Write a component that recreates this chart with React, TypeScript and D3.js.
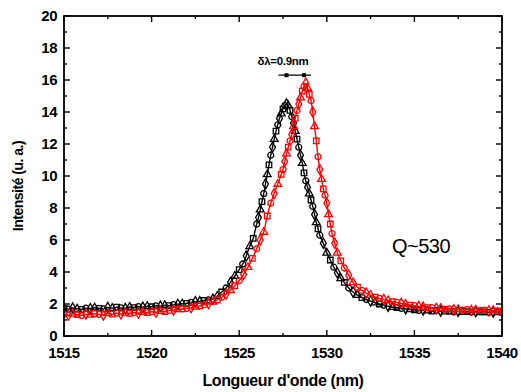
import React from "react";
import * as d3 from "d3";

const blackWl = [1515.0,1515.25,1515.5,1515.75,1516.0,1516.25,1516.5,1516.75,1517.0,1517.25,1517.5,1517.75,1518.0,1518.25,1518.5,1518.75,1519.0,1519.25,1519.5,1519.75,1520.0,1520.25,1520.5,1520.75,1521.0,1521.25,1521.5,1521.75,1522.0,1522.25,1522.5,1522.75,1523.0,1523.25,1523.5,1523.75,1524.0,1524.25,1524.5,1524.75,1525.0,1525.2,1525.4,1525.6,1525.8,1526.0,1526.1,1526.2,1526.3,1526.4,1526.5,1526.6,1526.7,1526.8,1526.9,1527.0,1527.1,1527.2,1527.3,1527.4,1527.5,1527.6,1527.7,1527.8,1527.9,1528.0,1528.1,1528.2,1528.3,1528.4,1528.5,1528.6,1528.7,1528.8,1528.9,1529.0,1529.1,1529.2,1529.3,1529.4,1529.5,1529.6,1529.8,1530.0,1530.2,1530.4,1530.6,1530.8,1531.0,1531.25,1531.5,1531.75,1532.0,1532.25,1532.5,1532.75,1533.0,1533.25,1533.5,1533.75,1534.0,1534.25,1534.5,1534.75,1535.0,1535.25,1535.5,1535.75,1536.0,1536.25,1536.5,1536.75,1537.0,1537.25,1537.5,1537.75,1538.0,1538.25,1538.5,1538.75,1539.0,1539.25,1539.5,1539.75,1540.0];
const blackI = [1.72,1.68,1.75,1.70,1.66,1.74,1.71,1.77,1.73,1.69,1.78,1.74,1.80,1.76,1.72,1.81,1.78,1.84,1.80,1.86,1.83,1.89,1.86,1.92,1.90,1.96,1.98,2.02,2.04,2.10,2.14,2.18,2.22,2.26,2.3,2.5,2.75,3.0,3.35,3.75,4.15,4.5,5.0,5.6,6.1,7.0,7.4,7.9,8.4,8.9,9.5,10.1,10.7,11.3,11.8,12.3,12.8,13.2,13.6,13.9,14.2,14.4,14.5,14.4,14.1,13.7,13.3,12.8,12.3,11.8,11.3,10.8,10.2,9.7,9.3,8.9,8.5,8.1,7.6,7.1,6.7,6.3,5.8,5.2,4.75,4.3,3.95,3.6,3.35,3.0,2.75,2.55,2.4,2.28,2.18,2.08,2.0,1.92,1.86,1.80,1.78,1.72,1.70,1.66,1.64,1.60,1.62,1.58,1.56,1.60,1.55,1.52,1.56,1.51,1.54,1.50,1.53,1.49,1.52,1.48,1.51,1.47,1.50,1.48,1.49];

const redWl = [1515.0,1515.25,1515.5,1515.75,1516.0,1516.25,1516.5,1516.75,1517.0,1517.25,1517.5,1517.75,1518.0,1518.25,1518.5,1518.75,1519.0,1519.25,1519.5,1519.75,1520.0,1520.25,1520.5,1520.75,1521.0,1521.25,1521.5,1521.75,1522.0,1522.25,1522.5,1522.75,1523.0,1523.25,1523.5,1523.75,1524.0,1524.25,1524.5,1524.75,1525.0,1525.25,1525.5,1525.75,1526.0,1526.2,1526.4,1526.6,1526.8,1527.0,1527.2,1527.4,1527.5,1527.6,1527.7,1527.8,1527.9,1528.0,1528.1,1528.2,1528.3,1528.4,1528.5,1528.6,1528.7,1528.8,1528.9,1529.0,1529.1,1529.2,1529.3,1529.4,1529.5,1529.6,1529.7,1529.8,1529.9,1530.0,1530.1,1530.2,1530.3,1530.45,1530.6,1530.8,1531.0,1531.25,1531.5,1531.75,1532.0,1532.25,1532.5,1532.75,1533.0,1533.25,1533.5,1533.75,1534.0,1534.25,1534.5,1534.75,1535.0,1535.25,1535.5,1535.75,1536.0,1536.25,1536.5,1536.75,1537.0,1537.25,1537.5,1537.75,1538.0,1538.25,1538.5,1538.75,1539.0,1539.25,1539.5,1539.75,1540.0];
const redI = [1.36,1.30,1.38,1.33,1.28,1.37,1.32,1.40,1.35,1.31,1.41,1.37,1.43,1.38,1.45,1.41,1.47,1.43,1.50,1.46,1.52,1.49,1.56,1.53,1.60,1.62,1.66,1.69,1.73,1.77,1.82,1.88,1.95,2.03,2.13,2.25,2.42,2.62,2.86,3.14,3.45,3.85,4.3,4.85,5.45,6.0,6.5,7.5,8.3,8.9,9.5,10.1,10.4,10.9,11.4,11.8,12.2,12.6,13.1,13.6,14.1,14.5,14.9,15.3,15.6,15.8,15.5,15.1,14.7,14.0,13.1,12.2,11.2,10.4,9.8,9.2,8.8,8.3,7.6,7.0,6.4,5.8,5.2,4.7,4.25,3.8,3.35,3.05,2.85,2.68,2.55,2.43,2.35,2.28,2.22,2.14,2.10,2.03,2.00,1.93,1.90,1.85,1.84,1.78,1.77,1.72,1.74,1.68,1.70,1.64,1.67,1.62,1.65,1.60,1.63,1.58,1.62,1.57,1.60,1.56,1.59];

const xMajor = [1515, 1520, 1525, 1530, 1535, 1540];
const xMinor = [1517.5, 1522.5, 1527.5, 1532.5, 1537.5];
const yMajor = [0, 2, 4, 6, 8, 10, 12, 14, 16, 18, 20];
const yMinor = [1, 3, 5, 7, 9, 11, 13, 15, 17, 19];
const peakWl = [1527.7, 1528.7];
const peakArrowY = 16.3;

const W = 521, H = 392;
const L = 64, R = 502, T = 16, B = 336;
const FONT = "'Liberation Sans', Arial, sans-serif";

const symbols = [d3.symbolSquare, d3.symbolCircle, d3.symbolDiamond, d3.symbolTriangle];

export default function App() {
  const x = d3.scaleLinear().domain([1515, 1540]).range([L, R]);
  const y = d3.scaleLinear().domain([0, 20]).range([B, T]);
  const line = d3.line<[number, number]>().x(d => x(d[0])).y(d => y(d[1])).curve(d3.curveMonotoneX);

  const series = [
    { wl: blackWl, v: blackI, color: "#000000" },
    { wl: redWl, v: redI, color: "#ff0000" },
  ];

  const symGens = symbols.map((s, i) => d3.symbol().type(s).size(i === 1 ? 28 : i === 3 ? 26 : 30)());

  const ay = y(peakArrowY);
  const ax0 = x(peakWl[0]) - 8, ax1 = x(peakWl[1]) + 7;

  return (
    <svg width={W} height={H} style={{ position: "absolute", left: 0, top: 0, background: "#fff" }}>
      <defs>
        <clipPath id="plot"><rect x={L} y={T} width={R - L} height={B - T} /></clipPath>
      </defs>
      <g clipPath="url(#plot)">
        {series.map((s, si) => {
          const pts = s.wl.map((w, i) => [w, s.v[i]] as [number, number]);
          return (
            <g key={si}>
              <path d={line(pts) || ""} fill="none" stroke={s.color} strokeWidth={1.4} />
              {pts.map((p, i) => (
                <path key={i} d={symGens[(i + si) % 4]} transform={`translate(${x(p[0])},${y(p[1])})`}
                  fill="none" stroke={s.color} strokeWidth={1.3} />
              ))}
            </g>
          );
        })}
      </g>
      <rect x={L} y={T} width={R - L} height={B - T} fill="none" stroke="#000" strokeWidth={1.8} />
      {xMajor.map(v => (
        <g key={"xm" + v}>
          <line x1={x(v)} x2={x(v)} y1={B} y2={B - 6} stroke="#000" strokeWidth={1.4} />
          <line x1={x(v)} x2={x(v)} y1={T} y2={T + 6} stroke="#000" strokeWidth={1.4} />
          <text x={x(v)} y={358} textAnchor="middle" fontFamily={FONT} fontWeight="bold" fontSize={15} letterSpacing={-0.5}>{v}</text>
        </g>
      ))}
      {xMinor.map(v => (
        <g key={"xn" + v}>
          <line x1={x(v)} x2={x(v)} y1={B} y2={B - 3} stroke="#000" strokeWidth={1.4} />
          <line x1={x(v)} x2={x(v)} y1={T} y2={T + 3} stroke="#000" strokeWidth={1.4} />
        </g>
      ))}
      {yMajor.map(v => (
        <g key={"ym" + v}>
          <line x1={L} x2={L + 6} y1={y(v)} y2={y(v)} stroke="#000" strokeWidth={1.4} />
          <line x1={R} x2={R - 6} y1={y(v)} y2={y(v)} stroke="#000" strokeWidth={1.4} />
          <text x={57} y={y(v) + 5} textAnchor="end" fontFamily={FONT} fontWeight="bold" fontSize={15} letterSpacing={-0.5}>{v}</text>
        </g>
      ))}
      {yMinor.map(v => (
        <g key={"yn" + v}>
          <line x1={L} x2={L + 3} y1={y(v)} y2={y(v)} stroke="#000" strokeWidth={1.4} />
          <line x1={R} x2={R - 3} y1={y(v)} y2={y(v)} stroke="#000" strokeWidth={1.4} />
        </g>
      ))}
      <text x={283} y={386} textAnchor="middle" fontFamily={FONT} fontWeight="bold" fontSize={16} letterSpacing={-0.4}>Longueur d'onde (nm)</text>
      <text transform={`translate(23,186) rotate(-90)`} textAnchor="middle" fontFamily={FONT} fontWeight="bold" fontSize={14} letterSpacing={-0.5}>Intensité (u. a.)</text>
      <text x={283} y={65} textAnchor="middle" fontFamily={FONT} fontWeight="bold" fontSize={11.5} letterSpacing={-0.3}>δλ=0.9nm</text>
      <line x1={ax0} x2={ax1} y1={ay} y2={ay} stroke="#000" strokeWidth={1.3} />
      {peakWl.map((w, i) => (
        <rect key={i} x={x(w) - 2} y={ay - 2} width={4} height={4} fill="#000" />
      ))}
      <text x={421} y={253} textAnchor="middle" fontFamily={FONT} fontSize={20} letterSpacing={-0.5}>Q~530</text>
    </svg>
  );
}
